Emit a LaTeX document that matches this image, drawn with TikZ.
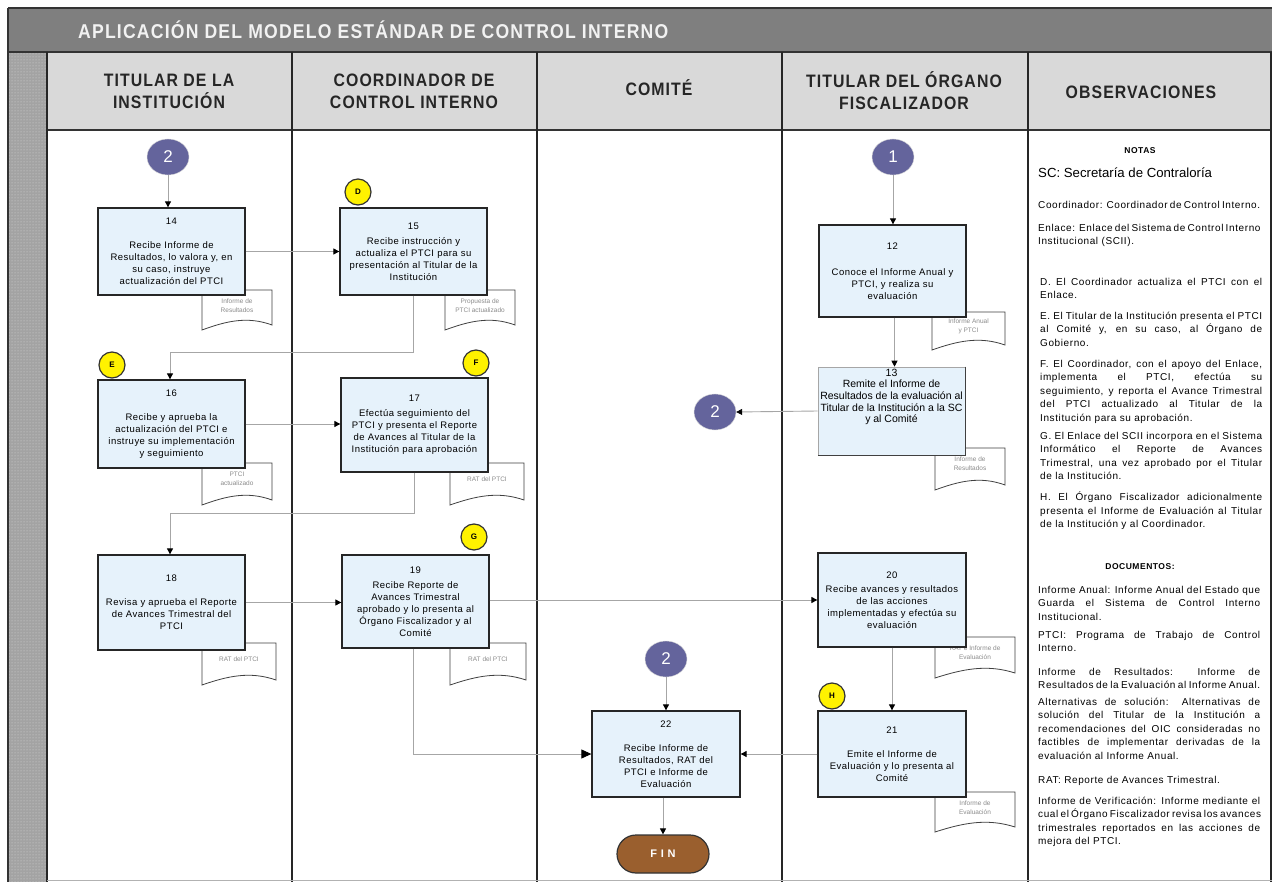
\documentclass[tikz,border=0pt]{standalone}
\usepackage{fontspec}
\setmainfont{Liberation Sans}
\newfontfamily\hdrfont[FakeStretch=0.88,LetterSpace=6]{Liberation Sans}
\newfontfamily\spfont[LetterSpace=6]{Liberation Sans}
\newfontfamily\bxfont[LetterSpace=5]{Liberation Sans}
\usetikzlibrary{arrows.meta,shapes.geometric,patterns}
\definecolor{boxblue}{HTML}{E6F2FB}
\definecolor{connc}{HTML}{64649C}
\definecolor{finc}{HTML}{9A5F2E}
\definecolor{hdrgray}{HTML}{D9D9D9}
\definecolor{titlegray}{HTML}{7F7F7F}
\definecolor{stripgray}{HTML}{A3A3A3}
\definecolor{arrgray}{HTML}{A6A6A6}
\newcommand\docu[6]{%
  \pgfmathsetmacro\dw{#4-#2}%
  \draw[docsty] (#2,#5) -- (#2,#3) -- (#4,#3) -- (#4,#5-5) .. controls +(-0.35*\dw,-9) and +(0.35*\dw,-9) .. (#2,#5) -- cycle;
  \node[doctext] (#1) at ({(#2+#4)/2},{#3+(#5-#3)*0.38}) {#6};
}
\newcommand\lb{\linebreak}
\newcommand\obsfont{\spfont\fontsize{10}{13.4}\selectfont\hyphenpenalty=10000 \emergencystretch=20pt\relax}
\newcommand\hang{\hangindent=9pt\hangafter=1\relax}
\begin{document}
\begin{tikzpicture}[x=1pt,y=-1pt,
  box/.style={draw=black!85, line width=1.3pt, fill=boxblue, minimum width=147, minimum height=87, text width=142, align=center, inner sep=0, font=\bxfont\fontsize{9.5}{12}\selectfont},
  yel/.style={circle, draw=black!80, line width=1.2pt, fill=yellow, minimum size=26, inner sep=0, font=\bfseries\fontsize{8}{8}\selectfont},
  conn/.style={ellipse, fill=connc, draw=black!15, minimum width=42, minimum height=36, inner sep=0, text=white, font=\fontsize{17}{17}\selectfont},
  arr/.style={draw=arrgray, line width=0.9pt, -{Triangle[length=6pt,width=6pt,color=black]}},
  docsty/.style={draw=black!75, fill=white, line width=0.8pt},
  doctext/.style={align=center, text=black!45, inner sep=0, font=\fontsize{6.5}{9}\selectfont},
  lanehdr/.style={align=center, inner sep=0, font=\hdrfont\bfseries\fontsize{18}{22}\selectfont, text=black!85},
  obs/.style={anchor=north west, text width=222, align=justify, inner sep=0, font=\obsfont}
]
\useasboundingbox (0,0) rectangle (1272,882);
% title bar
\fill[titlegray] (8,8) rectangle (1272,52);
\draw[black!80, line width=1.5pt] (8,8) -- (1272,8);
\draw[black!80, line width=1.5pt] (8,8) -- (8,882);
\node[anchor=west, inner sep=0, text=white!95!black, font=\hdrfont\bfseries\fontsize{20}{20}\selectfont] (title) at (78,30) {APLICACIÓN DEL MODELO ESTÁNDAR DE CONTROL INTERNO};
% left strip
\fill[stripgray] (9,52) rectangle (46,882);
\fill[pattern=dots, pattern color=white!85!black] (9,52) rectangle (46,882);
% header row
\fill[hdrgray] (47,52) rectangle (1272,130);
\fill[white] (47,130) rectangle (1272,882);
\draw[black!80, line width=1.5pt] (8,52) -- (1272,52);
\draw[black!80, line width=1.5pt] (47,130) -- (1272,130);
\foreach \xx in {47,292,537,782,1028} {\draw[black!85, line width=1.6pt] (\xx,52) -- (\xx,882);}
\draw[black!85, line width=1.6pt] (1271,52) -- (1271,882);
\draw[black!30, line width=0.8pt] (47,880) -- (1272,880);
\node[lanehdr] (h1) at (169,91) {TITULAR DE LA\\INSTITUCIÓN};
\node[lanehdr] (h2) at (414,91) {COORDINADOR DE\\CONTROL INTERNO};
\node[lanehdr] (h3) at (659,88) {COMITÉ};
\node[lanehdr] (h4) at (904,91) {TITULAR DEL ÓRGANO\\FISCALIZADOR};
\node[lanehdr] (h5) at (1141,92) {OBSERVACIONES};

% documents (drawn before boxes)
\docu{d14}{202}{290}{272}{330}{Informe de\\Resultados}
\docu{d15}{445}{290}{515}{330}{Propuesta de\\PTCI actualizado}
\docu{d16}{202}{463}{272}{505}{PTCI\\actualizado}
\docu{d17}{450}{463}{524}{505}{RAT del PTCI}
\docu{d18}{202}{643}{276}{685}{RAT del PTCI}
\docu{d19}{450}{643}{526}{685}{RAT del PTCI}
\docu{d12}{932}{312}{1005}{350}{Informe Anual\\y PTCI}
\docu{d13}{935}{448}{1005}{490}{Informe de\\Resultados}
\docu{d20}{935}{637}{1015}{678}{RAT e Informe de\\Evaluación}
\docu{d21}{935}{792}{1015}{832}{Informe de\\Evaluación}

% process boxes
\node[box] (b14) at (171.5,251.5) {14\\[12pt]Recibe Informe de\\Resultados, lo valora y, en\\su caso, instruye\\actualización del PTCI};
\node[box] (b15) at (413.5,251.5) {15\\[3pt]Recibe instrucción y\\actualiza el PTCI para su\\presentación al Titular de la\\Institución};
\node[box, minimum height=88] (b16) at (171.5,424) {16\\[12pt]Recibe y aprueba la\\actualización del PTCI e\\instruye su implementación\\y seguimiento};
\node[box, minimum height=94] (b17) at (414.5,425) {17\\[3pt]Efectúa seguimiento del\\PTCI y presenta el Reporte\\de Avances al Titular de la\\Institución para aprobación};
\node[box, minimum height=95] (b18) at (171.5,602.5) {18\\[12pt]Revisa y aprueba el Reporte\\de Avances Trimestral del\\PTCI};
\node[box, minimum height=93] (b19) at (415.5,601.5) {19\\[3pt]Recibe Reporte de\\Avances Trimestral\\aprobado y lo presenta al\\Órgano Fiscalizador y al\\Comité};
\node[box, minimum height=92] (b12) at (892.5,271) {12\\[14pt]Conoce el Informe Anual y\\PTCI, y realiza su\\evaluación\\[8pt]};
\node[box, draw=black!35, line width=0.6pt, minimum height=88] (b13) at (891.5,411) {};
\draw[black!75, line width=1.3pt] (b13.north east) -- (b13.south east) -- (b13.south west);
\node[anchor=north, align=center, inner sep=0, font=\fontsize{10.5}{11.6}\selectfont] (t13) at ([yshift=-2pt]b13.north) {13\\Remite el Informe de\\Resultados de la evaluación al\\Titular de la Institución a la SC\\y al Comité};
\node[box, minimum width=148, minimum height=94] (b20) at (892,600) {20\\[2pt]Recibe avances y resultados\\de las acciones\\implementadas y efectúa su\\evaluación};
\node[box, minimum width=148, minimum height=86] (b21) at (892,754) {21\\[12pt]Emite el Informe de\\Evaluación y lo presenta al\\Comité\\[6pt]};
\node[box, minimum width=148, minimum height=86] (b22) at (666,754) {22\\[12pt]Recibe Informe de\\Resultados, RAT del\\PTCI e Informe de\\Evaluación};

% connectors (on-page)
\node[conn] (c2a) at (168,157) {2};
\node[conn] (c1) at (893,157) {1};
\node[conn] (c2b) at (715,412) {2};
\node[conn] (c2c) at (666,659) {2};
\node[draw=black!80, line width=1.2pt, fill=finc, rounded corners=19, minimum width=92, minimum height=38, inner sep=0, text=white, font=\bfseries\fontsize{11}{11}\selectfont] (fin) at (663,854) {F\,\,I\,\,N};

% yellow markers
\node[yel] (mD) at (358,192) {D};
\node[yel] (mE) at (112,365) {E};
\node[yel] (mF) at (476,363) {F};
\node[yel] (mG) at (474,537) {G};
\node[yel] (mH) at (832,696) {H};

% arrows
\draw[arr] (c2a) -- (c2a |- b14.north);
\draw[arr] (b14.east) -- (b14.east -| b15.west);
\draw[arr] (b15.south) -- ++(0,57) -| ([xshift=-1.5pt]b16.north);
\draw[arr] (b16.east) -- (b16.east -| b17.west);
\draw[arr] (b17.south) -- ++(0,41) -| ([xshift=-1.5pt]b18.north);
\draw[arr] (b18.east) -- (b18.east -| b19.west);
\draw[arr] ([yshift=1.5pt]b19.east) -- ([yshift=1.5pt]b19.east -| b20.west);
\draw[draw=arrgray, line width=0.9pt, -{Triangle[length=10pt,width=9pt,color=black]}] ([xshift=-2pt]b19.south) |- (b22.west);
\draw[arr] (c1) -- (c1 |- b12.north);
\draw[arr] ([xshift=2pt]b12.south) -- ([xshift=2pt]b12.south |- b13.north);
\draw[arr] (b13.west) -- (c2b.east);
\draw[arr] (b20.south) -- (b21.north);
\draw[arr] (b21.west) -- (b22.east);
\draw[arr] (c2c) -- (c2c |- b22.north);
\draw[arr] ([xshift=-3pt]b22.south) -- ([xshift=-3pt]b22.south |- fin.north);

% observations
\node[inner sep=0, font=\spfont\bfseries\fontsize{8.5}{10}\selectfont] (notas) at (1140,151) {NOTAS};
\node[obs, font=\fontsize{13.2}{15}\selectfont] (o1) at (1038,168) {SC: Secretaría de Contraloría};
\node[obs] (o2) at (1038,201) {Coordinador: Coordinador de Control Interno.};
\node[obs] (o3) at (1038,224) {Enlace: Enlace del Sistema de Control Interno\lb Institucional (SCII).};
\node[obs] (oD) at (1040,278) {\hang D. El Coordinador actualiza el PTCI con el\lb Enlace.};
\node[obs] (oE) at (1040,312) {\hang E. El Titular de la Institución presenta el PTCI\lb al Comité y, en su caso, al Órgano de\lb Gobierno.};
\node[obs] (oF) at (1040,360) {\hang F. El Coordinador, con el apoyo del Enlace,\lb implementa el PTCI, efectúa su\lb seguimiento, y reporta el Avance Trimestral\lb del PTCI actualizado al Titular de la\lb Institución para su aprobación.};
\node[obs] (oG) at (1040,432) {\hang G. El Enlace del SCII incorpora en el Sistema\lb Informático el Reporte de Avances\lb Trimestral, una vez aprobado por el Titular\lb de la Institución.};
\node[obs] (oH) at (1040,492) {\hang H. El Órgano Fiscalizador adicionalmente\lb presenta el Informe de Evaluación al Titular\lb de la Institución y al Coordinador.};
\node[inner sep=0, font=\spfont\bfseries\fontsize{8.5}{10}\selectfont] (docs) at (1140,567) {DOCUMENTOS:};
\node[obs] (p1) at (1038,586) {Informe Anual: Informe Anual del Estado que\lb Guarda el Sistema de Control Interno\lb Institucional.};
\node[obs] (p2) at (1038,631) {PTCI: Programa de Trabajo de Control\lb Interno.};
\node[obs] (p3) at (1038,668) {Informe de Resultados: Informe de\lb Resultados de la Evaluación al Informe Anual.};
\node[obs] (p4) at (1038,698) {Alternativas de solución: Alternativas de\lb solución del Titular de la Institución a\lb recomendaciones del OIC consideradas no\lb factibles de implementar derivadas de la\lb evaluación al Informe Anual.};
\node[obs] (p5) at (1038,776) {RAT: Reporte de Avances Trimestral.};
\node[obs] (p6) at (1038,797) {Informe de Verificación: Informe mediante el\lb cual el Órgano Fiscalizador revisa los avances\lb trimestrales reportados en las acciones de\lb mejora del PTCI.};
\end{tikzpicture}
\end{document}
